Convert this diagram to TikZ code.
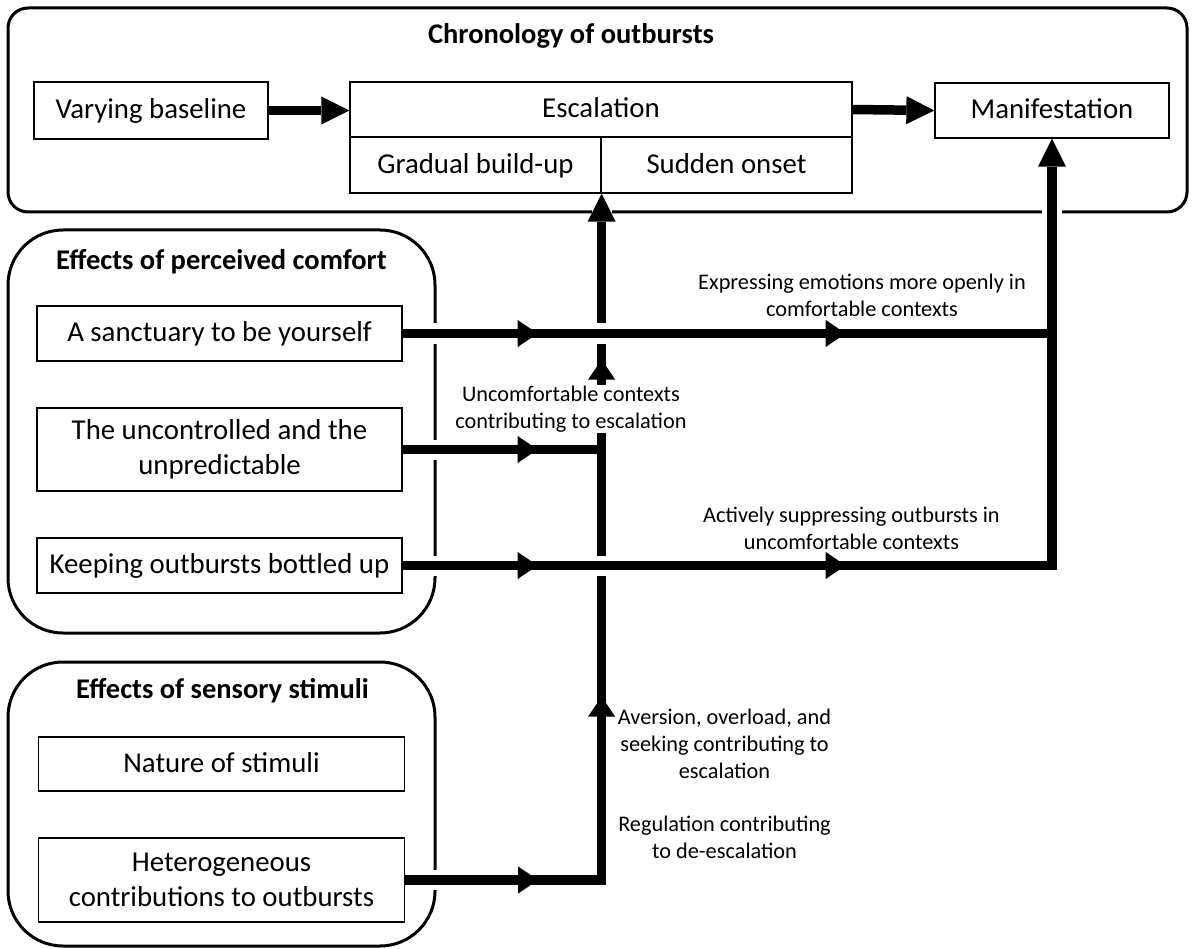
\documentclass[tikz,border=0pt]{standalone}
\usepackage{fontspec}
\setmainfont{Carlito}
\usetikzlibrary{arrows.meta,decorations.markings}

\newcommand\bxfont{\fontsize{28.8}{35}\selectfont}
\newcommand\lbfont{\fontsize{22.3}{26.8}\selectfont}
\newcommand\hdfont{\fontsize{28.5}{34}\selectfont\bfseries}

\tikzset{
  panel/.style={draw, line width=3pt},
  box/.style={draw, fill=white, line width=1.3pt, inner sep=0pt, align=center, font=\bxfont},
  oneline/.style={text height=20pt, text depth=3.5pt},
  heading/.style={anchor=base, inner sep=0pt, font=\hdfont},
  note/.style={align=center, font=\lbfont, inner sep=1pt},
  flow/.style={line width=9.5pt},
  halo/.style={draw=white, line width=20pt},
  endtip/.style={-{Triangle[length=28pt,width=28pt,line width=0pt]}},
  midtip/.style={postaction={decorate, decoration={markings,
      mark=at position #1 with {\arrow{Triangle[length=20pt,width=27pt,line width=0pt]}}}}},
}

\begin{document}
\begin{tikzpicture}[x=1pt, y=-1pt]
\useasboundingbox (0,0) rectangle (1193,949);

% ---- group frames ----
\draw[panel, rounded corners=20pt] (8,8) rectangle (1187,212);
\draw[panel, rounded corners=55pt] (8,230) rectangle (435,633);
\draw[panel, rounded corners=55pt] (8,662) rectangle (435,946);

\node[heading] (hchron) at (571,44) {Chronology of outbursts};
\node[heading] (hcomf)  at (221.5,270) {Effects of perceived comfort};
\node[heading] (hsens)  at (222.5,698) {Effects of sensory stimuli};

% ---- chronology ----
\node[box, oneline, minimum width=234pt, minimum height=57pt] (vary) at (151,110.5) {Varying baseline};
\node[box, oneline, minimum width=502pt, minimum height=55pt] (esc) at (601,109.5) {Escalation};
\node[box, oneline, minimum width=251pt, minimum height=56pt] (grad) at (475.5,165) {Gradual build-up};
\node[box, oneline, minimum width=251pt, minimum height=56pt] (sudd) at (726.5,165) {Sudden onset};
\node[box, oneline, minimum width=234pt, minimum height=55pt] (man) at (1052,110.5) {Manifestation};

% ---- perceived comfort ----
\node[box, oneline, minimum width=365pt, minimum height=55pt] (sanct) at (219.5,333.5) {A sanctuary to be yourself};
\node[box, minimum width=365pt, minimum height=83pt] (unc) at (219.5,449.5) {The uncontrolled and the\\unpredictable};
\node[box, oneline, minimum width=365pt, minimum height=55pt] (keep) at (219.5,565.5) {Keeping outbursts bottled up};

% ---- sensory stimuli ----
\node[box, oneline, minimum width=366pt, minimum height=54pt] (nat) at (221.5,764) {Nature of stimuli};
\node[box, minimum width=366pt, minimum height=84pt] (het) at (221.5,880) {Heterogeneous\\contributions to outbursts};

% ---- junction points ----
\coordinate (hc) at (grad.south east |- het.east);
\coordinate (uj) at (grad.south east |- unc.east);
\coordinate (rv) at (man.south |- sanct.east);
\coordinate (kc) at (man.south |- keep.east);

% ---- chronology arrows ----
\draw[flow, endtip] (vary.east) -- (esc.west |- vary.east);
\draw[flow, endtip] (esc.east) -- (man.west);

% ---- main riser into escalation ----
\draw[halo, shorten <=2pt, shorten >=12pt] (het.east) -- (hc) -- (grad.south east);
\draw[flow, endtip, midtip=133pt, midtip=380pt, midtip=717pt]
  (het.east) -- (hc) -- (grad.south east);

\draw[halo, shorten <=2pt, shorten >=22pt] (unc.east) -- (uj);
\draw[flow, midtip=135pt] (unc.east) -- (uj);

\node[note, fill=white] (luncomf) at (571,409) {Uncomfortable contexts\\contributing to escalation};

% ---- comfort paths to manifestation ----
\draw[halo, shorten <=2pt, shorten >=12pt] (keep.east) -- (kc) -- (man.south);
\draw[halo, shorten <=2pt] (sanct.east) -- (rv);
\draw[flow, midtip=135pt, midtip=443pt] (sanct.east) -- (rv);
\draw[flow, endtip, midtip=135pt, midtip=443pt] (keep.east) -- (kc) -- (man.south);

% ---- path labels ----
\node[note] (lexpr) at (862,295.5) {Expressing emotions more openly in\\comfortable contexts};
\node[note] (lsupp) at (851.5,528.5) {Actively suppressing outbursts in\\uncomfortable contexts};
\node[note] (lsens) at (724.5,784) {Aversion, overload, and\\seeking contributing to\\escalation\\[26.8pt]Regulation contributing\\to de-escalation};

\end{tikzpicture}
\end{document}
